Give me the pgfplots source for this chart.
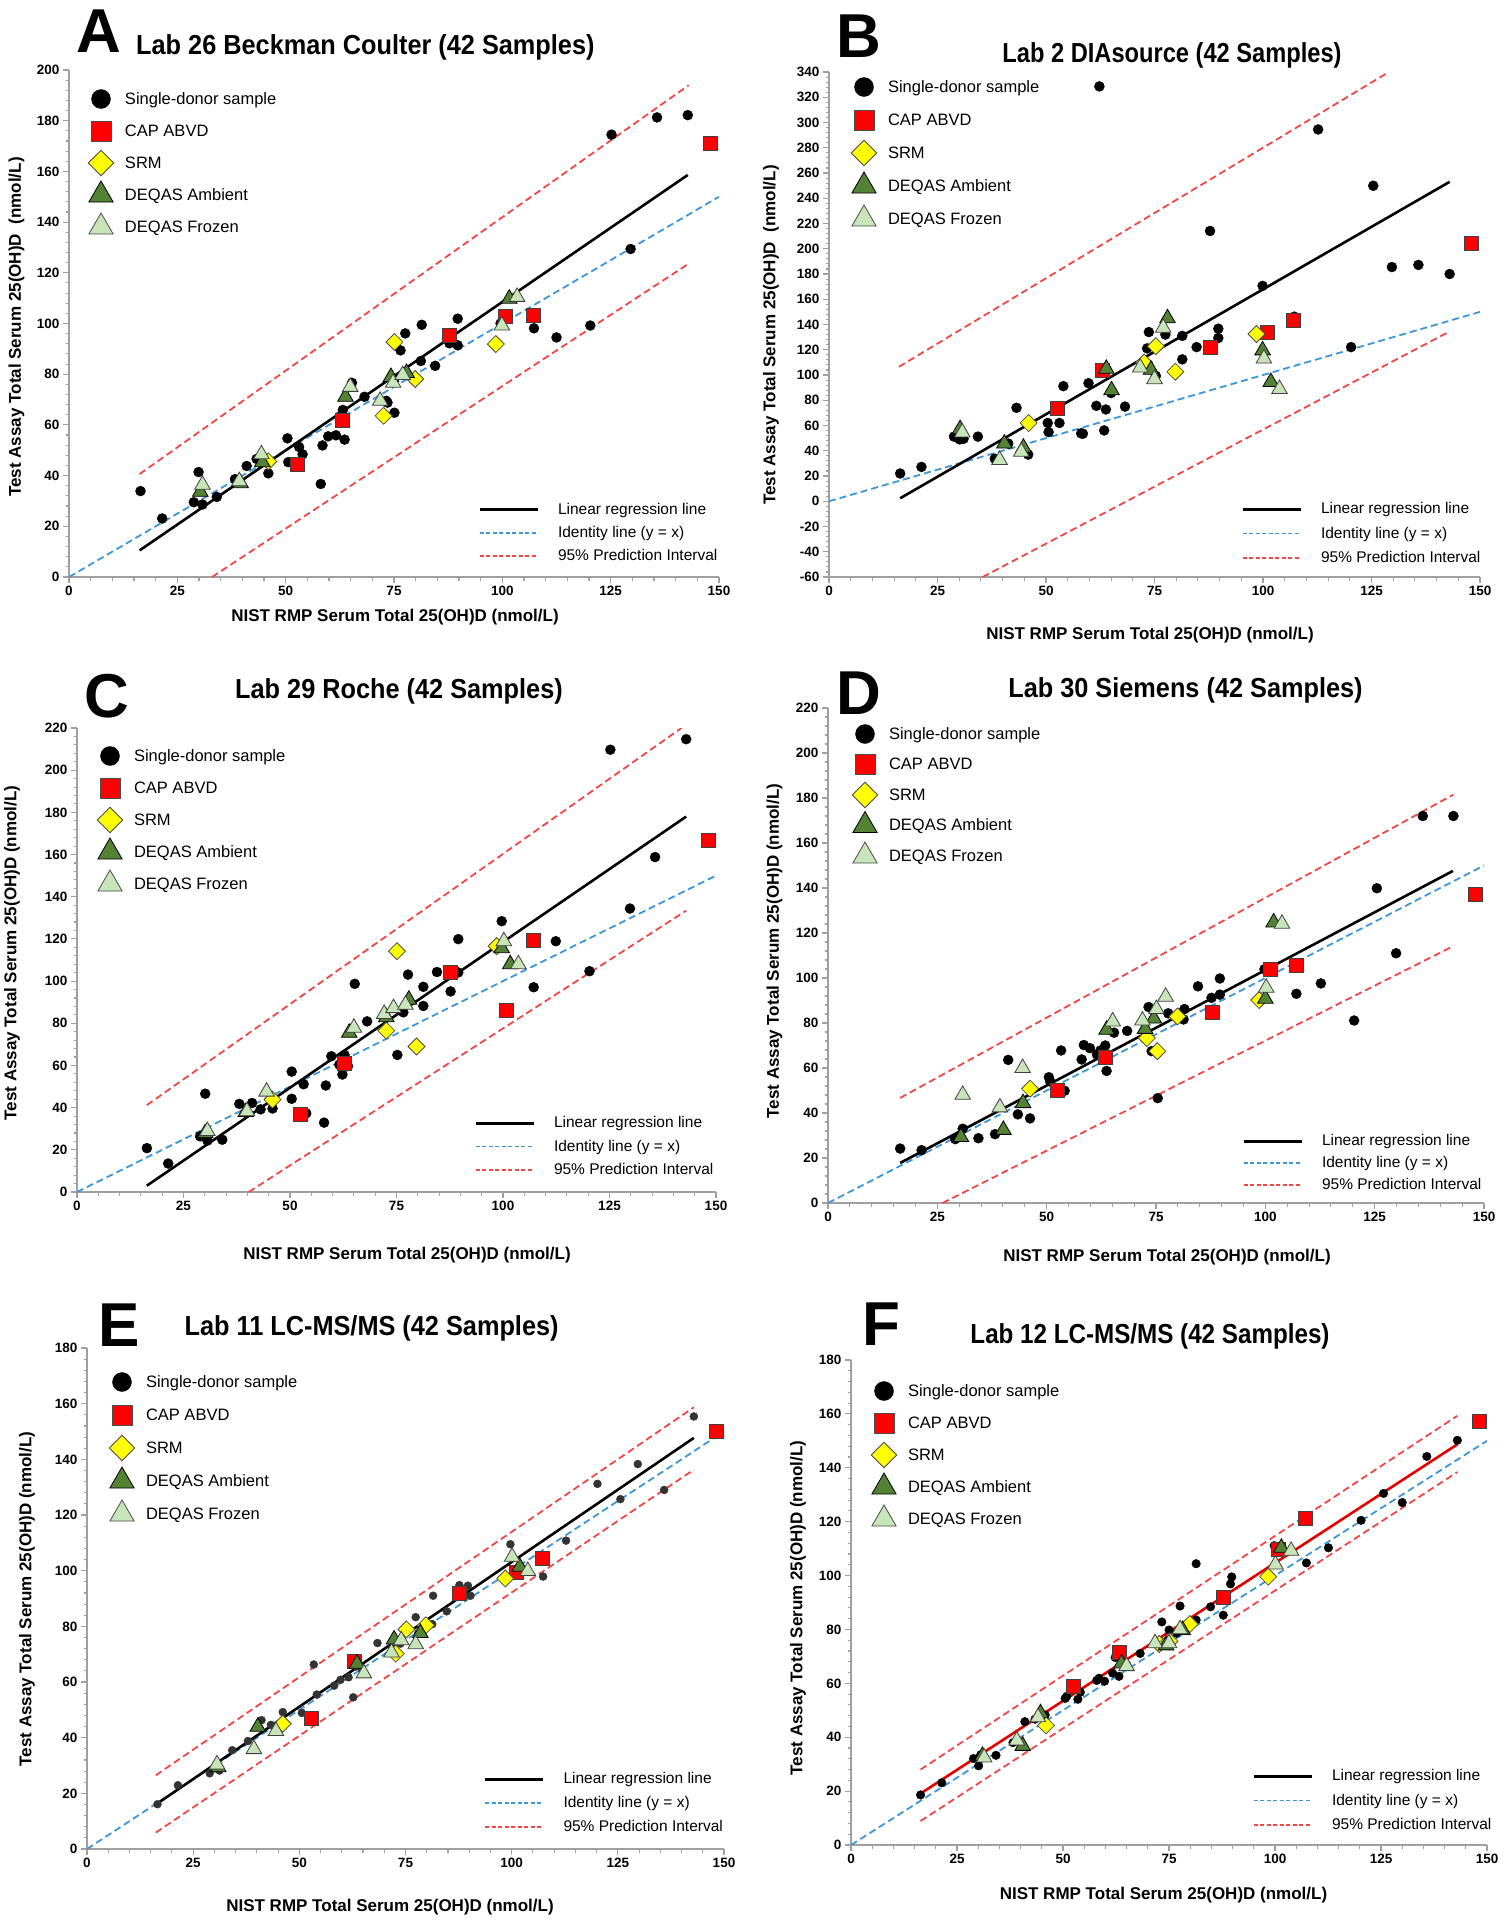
\documentclass[border=0pt]{standalone}
\usepackage{pgfplots}
\pgfplotsset{compat=1.18}
\usepackage{fontspec}
\setmainfont{Liberation Sans}
\newfontfamily\tfont[FakeStretch=0.92]{Liberation Sans}
\newfontfamily\tfontB[FakeStretch=0.86]{Liberation Sans}
\newfontfamily\tfontF[FakeStretch=0.88]{Liberation Sans}
\newcommand{\fs}[1]{\fontsize{#1pt}{#1pt}\selectfont}

\definecolor{cred}{RGB}{255,0,0}
\definecolor{cyel}{RGB}{255,255,0}
\definecolor{camb}{RGB}{84,130,53}
\definecolor{cfro}{RGB}{200,228,185}
\definecolor{cid}{RGB}{60,150,215}
\definecolor{cpi}{RGB}{240,70,70}
\definecolor{caxis}{RGB}{160,160,160}

\pgfplotsset{
 panel/.style={
  scale only axis, anchor=north west,
  axis x line*=bottom, axis y line*=left,
  axis line style={draw=caxis, line width=1.6pt, -},
  tick style={draw=caxis, line width=1.1pt},
  major tick length=6pt, minor tick length=3.5pt,
  tick align=outside,
  xmin=0, xmax=150, xtick={0,25,...,150}, minor x tick num=4, minor y tick num=4,
  ticklabel style={font=\bfseries\fs{13.5}},
  /pgf/number format/assume math mode=true,
  legend cell align=left,
  legend style={draw=none, fill=none, inner sep=0pt, outer sep=0pt,
    at={(axis description cs:0,1)}, anchor=north west,
    font=\fs{16.5}, column sep=11pt, row sep=0pt, nodes={inner sep=0pt}},
 },
 mk/.style={legend image code/.code={\path[draw=none,fill=none] (-13pt,-#1) rectangle (13pt,#1); \draw[##1] plot coordinates {(0pt,0pt)};}},
 lnleg/.style={legend image code/.code={\path[draw=none,fill=none] (0pt,-#1) rectangle (58pt,#1); \draw[##1] (0pt,0pt) -- (58pt,0pt);}},
 ov/.style={scale only axis, anchor=north west, hide axis, xmin=0,xmax=1,ymin=0,ymax=1,
   legend cell align=left,
   legend style={draw=none, fill=none, inner sep=0pt, outer sep=0pt,
    at={(axis description cs:0,1)}, anchor=north west,
    font=\fs{15.5}, column sep=19pt, row sep=0pt, nodes={inner sep=0pt}}},
 pdon/.style={only marks, mark=*, mark size=5pt, draw=black, fill=black, forget plot},
 pcap/.style={only marks, mark=square*, mark size=7pt, draw=black!75, fill=cred, line width=0.8pt, forget plot},
 psrm/.style={only marks, mark=square*, mark size=6pt, mark options={rotate=45}, draw=black!70, fill=cyel, line width=0.8pt, forget plot},
 pamb/.style={only marks, mark=triangle*, mark size=9pt, draw=black, fill=camb, line width=0.8pt, forget plot},
 pfro/.style={only marks, mark=triangle*, mark size=9pt, draw=black!75, fill=cfro, line width=0.8pt, forget plot},
 lreg/.style={black, line width=2.6pt, forget plot},
 lid/.style={cid, line width=1.8pt, dash pattern=on 7pt off 4pt, forget plot},
 lpi/.style={cpi, line width=1.8pt, dash pattern=on 7pt off 4pt, forget plot},
}

\newcommand{\markleg}{%
 \addlegendimage{only marks, mark=*, mark size=9.5pt, fill=black, draw=black}
 \addlegendentry{Single-donor sample}
 \addlegendimage{only marks, mark=square*, mark size=10pt, fill=cred, draw=black!70, line width=0.8pt}
 \addlegendentry{CAP ABVD}
 \addlegendimage{only marks, mark=square*, mark size=9pt, mark options={rotate=45}, fill=cyel, draw=black!70, line width=0.8pt}
 \addlegendentry{SRM}
 \addlegendimage{only marks, mark=triangle*, mark size=14pt, fill=camb, draw=black, line width=0.8pt}
 \addlegendentry{DEQAS Ambient}
 \addlegendimage{only marks, mark=triangle*, mark size=14pt, fill=cfro, draw=black!70, line width=0.8pt}
 \addlegendentry{DEQAS Frozen}
}
\newcommand{\lineleg}{%
 \addlegendimage{black, line width=3pt}
 \addlegendentry{Linear regression line}
 \addlegendimage{cid, line width=1.8pt, dash pattern=on 4pt off 2.5pt}
 \addlegendentry{Identity line (y = x)}
 \addlegendimage{cpi, line width=1.8pt, dash pattern=on 4pt off 2.5pt}
 \addlegendentry{95\% Prediction Interval}
}

\begin{document}
\begin{tikzpicture}
\path[use as bounding box] (0pt,0pt) rectangle (1505pt,-1920pt);

% ================= A =================
\begin{axis}[panel, at={(69pt,-70pt)}, width=650pt, height=507pt,
  ymin=0, ymax=200, ytick={0,20,...,200}, mk=16pt,
  legend style={xshift=19pt, yshift=-13pt}]
\addplot[lid] coordinates {(0,0) (150,150)};
\addplot[lpi] coordinates {(16.3,40.6) (143,194)};
\addplot[lpi] coordinates {(33,0) (142.8,123.4)};
\addplot[lreg] coordinates {(16.3,10.5) (142.8,158.6)};
\addplot[pdon] coordinates {(16.5,33.9) (21.5,23.1) (29.9,41.4) (28.8,29.5) (30.8,28.6) (34.1,31.6) (38.3,38.6) (41,43.8) (43.3,46.6) (46,40.9) (50.4,54.7) (50.6,45.3) (53.1,51.3) (53.9,48.4) (58.1,36.7) (58.5,51.9) (59.8,55.5) (61.6,55.9) (62.5,63.3) (63.6,54.2) (63.2,65.9) (65.3,76.6) (68.2,71.1) (73.2,69.5) (73.5,68.8) (75.1,64.8) (76.5,89.4) (77.6,96.1) (81.2,85.2) (81.4,99.5) (84.5,83.3) (87.8,92.2) (89.7,91.4) (89.7,101.9) (99.6,100) (107.3,98.1) (112.5,94.5) (120.3,99.2) (125.2,174.5) (129.6,129.4) (135.7,181.3) (142.8,182.2)};
\addplot[pcap] coordinates {(52.6,44.5) (63.1,61.7) (87.8,95.3) (100.7,102.8) (107.1,103.1) (148,171.1)};
\addplot[psrm] coordinates {(46,45.6) (72.6,63.6) (75.1,92.7) (79.9,78.1) (98.5,91.9)};
\addplot[pamb] coordinates {(30.3,33.6) (39.6,37) (44.6,45.3) (63.8,71.1) (74.3,78.9) (77.9,80.5) (101.6,109.8)};
\addplot[pfro] coordinates {(30.8,36.4) (39.3,37.8) (44.4,48.4) (64.9,75) (71.8,69.5) (74.8,76.6) (77,79.7) (99.9,99.2) (103.4,110.5)};
\markleg
\end{axis}
\begin{axis}[ov, at={(69pt,-70pt)}, width=650pt, height=507pt, lnleg=11.6pt,
  legend style={xshift=409pt, yshift=-428pt}]
\lineleg
\end{axis}

% ================= B =================
\begin{axis}[panel, at={(829pt,-72pt)}, width=651pt, height=505pt,
  ymin=-60, ymax=340, ytick={-60,-40,...,340}, mk=16.5pt,
  legend style={xshift=22pt, yshift=1.5pt}]
\addplot[lid] coordinates {(0,0) (150,150)};
\addplot[lpi] coordinates {(16.1,106.5) (129,340)};
\addplot[lpi] coordinates {(35.4,-60) (143,134.5)};
\addplot[lreg] coordinates {(16.4,2.4) (143,253)};
\addplot[pdon] coordinates {(16.4,22) (21.3,27.2) (28.8,51.2) (30.1,49) (31,49.5) (34.3,51.2) (38.2,33.7) (41.3,45.7) (43.2,74) (45.9,37) (50.4,62) (50.6,54.8) (53.1,62) (54,91.2) (58.1,53.8) (58.5,53.5) (59.8,93.5) (61.6,75.6) (62.3,328.6) (63.4,56.1) (63.8,72.7) (65,85.7) (68.2,75) (73.3,121.1) (73.7,134) (75.3,99.3) (77.5,132) (81.4,131) (81.4,112.4) (84.7,122.1) (87.8,214.1) (89.7,136.7) (89.7,129.3) (99.9,170.6) (107.2,146.2) (112.7,294.5) (120.3,122.1) (125.4,249.9) (129.7,185.5) (135.8,187.2) (143,180)};
\addplot[pcap] coordinates {(52.7,73.3) (63.1,103.6) (87.8,122.1) (100.9,133.5) (106.9,143.3) (148.1,204.1)};
\addplot[psrm] coordinates {(46,62) (72.6,109.8) (75.3,122.8) (79.8,102.6) (98.5,132.5)};
\addplot[pamb] coordinates {(30.2,57.1) (40.4,45.7) (44.8,42.4) (63.9,104.9) (65.1,87.9) (74.2,104.1) (78,144.9) (99.9,119.5) (101.8,94.5)};
\addplot[pfro] coordinates {(30.7,54.5) (39.3,32.7) (44.3,39.2) (71.7,105.9) (75,96.7) (77,137.4) (100.2,113) (103.8,88.9)};
\markleg
\end{axis}
\begin{axis}[ov, at={(829pt,-72pt)}, width=651pt, height=505pt, lnleg=12.25pt,
  legend style={xshift=412pt, yshift=-424.75pt}]
\lineleg
\end{axis}

% ================= C =================
\begin{axis}[panel, at={(77pt,-728pt)}, width=639pt, height=464pt,
  ymin=0, ymax=220, ytick={0,20,...,220}, mk=16pt,
  legend style={xshift=20pt, yshift=-12pt}]
\addplot[lid] coordinates {(0,0) (150,150)};
\addplot[lpi] coordinates {(16.4,41.2) (141.9,220)};
\addplot[lpi] coordinates {(40.3,0) (143,133.4)};
\addplot[lreg] coordinates {(16.4,3) (143,178)};
\addplot[pdon] coordinates {(16.4,20.8) (21.4,13.5) (30.1,46.6) (28.9,26.4) (30.6,24.4) (34.1,24.8) (38.1,41.8) (41.1,42.2) (43.1,39.2) (45.9,39.6) (50.4,57.1) (50.4,44.2) (53.2,51.1) (53.8,37.3) (58,32.9) (58.4,50.5) (59.7,64.4) (61.6,60.4) (62.3,55.7) (62.8,65) (63.6,59.7) (65.2,98.7) (68.1,80.9) (75.2,65) (76.6,85.2) (77.7,103.1) (81.3,97.3) (81.3,88.2) (84.5,104.3) (87.7,95.1) (89.5,119.9) (89.5,104.1) (99.7,128.4) (107.2,97.1) (112.4,118.9) (120.3,104.7) (125.2,209.7) (129.8,134.4) (135.7,158.8) (143,214.7)};
\addplot[pcap] coordinates {(52.4,36.7) (62.7,61) (87.6,104.1) (100.9,86.2) (107.1,119.5) (148.1,166.7)};
\addplot[psrm] coordinates {(45.9,43.8) (72.6,76.5) (75.1,114.2) (79.7,69) (98.5,116.6)};
\addplot[pamb] coordinates {(30.1,27.9) (39.6,37.9) (63.9,75.5) (72.6,82.9) (77.9,91.2) (99.7,115.6) (101.7,108)};
\addplot[pfro] coordinates {(30.6,28.9) (39.9,38.3) (44.5,47.6) (65,77.9) (72.1,84.4) (74.3,87.2) (77.1,88.8) (100.2,118.9) (103.6,108)};
\markleg
\end{axis}
\begin{axis}[ov, at={(77pt,-728pt)}, width=639pt, height=464pt, lnleg=11.75pt,
  legend style={xshift=397pt, yshift=-383.25pt}]
\lineleg
\end{axis}

% ================= D =================
\begin{axis}[panel, at={(828pt,-708pt)}, width=656pt, height=495pt,
  ymin=0, ymax=220, ytick={0,20,...,220}, mk=15.25pt,
  legend style={xshift=24pt, yshift=-10.75pt}]
\addplot[lid] coordinates {(0,0) (150,150)};
\addplot[lpi] coordinates {(16.5,46.7) (143,181.5)};
\addplot[lpi] coordinates {(26.2,0) (143,114.2)};
\addplot[lreg] coordinates {(16.5,17.8) (142.9,147.6)};
\addplot[pdon] coordinates {(16.5,24.2) (21.4,23.5) (29.1,28.4) (30.8,33) (34.4,28.8) (38.2,30.6) (41.2,63.6) (43.4,39.4) (46.2,37.6) (50.5,55.9) (50.8,54) (53.3,67.8) (54.1,49.9) (58,63.8) (58.5,70.2) (59.9,68.8) (61.5,66) (62.3,67.8) (63.4,70) (63.7,58.7) (65.4,75.7) (68.4,76.5) (73.3,87.1) (74,67.5) (75.4,46.6) (77.8,84.3) (81.3,81.6) (81.5,86.2) (84.6,96.3) (87.7,91.2) (89.6,99.8) (89.6,92.6) (99.8,103.9) (107.1,93) (112.7,97.6) (120.3,81.1) (125.5,139.9) (129.9,111) (136,172) (143,172)};
\addplot[pcap] coordinates {(52.5,49.9) (63.4,64.7) (87.9,84.7) (101.1,103.9) (107,105.8) (148.1,137)};
\addplot[psrm] coordinates {(46.2,50.8) (72.9,73.3) (75.3,67.5) (79.9,82.9) (98.6,90.2)};
\addplot[pamb] coordinates {(30.4,29.3) (40.1,32.5) (44.6,44.4) (63.7,77) (72.5,77.4) (74.5,82) (100,90.8) (101.9,124.7)};
\addplot[pfro] coordinates {(30.8,48.1) (39.3,42.5) (44.5,60) (65.1,80.7) (71.9,81.1) (75.1,86.2) (77.2,91.7) (100.2,95.7) (103.8,124.1)};
\markleg
\end{axis}
\begin{axis}[ov, at={(828pt,-708pt)}, width=656pt, height=495pt, lnleg=11pt,
  legend style={xshift=414pt, yshift=-422pt}]
\lineleg
\end{axis}

% ================= E =================
\begin{axis}[panel, at={(87pt,-1348pt)}, width=637pt, height=501pt,
  ymin=0, ymax=180, ytick={0,20,...,180}, mk=16.5pt,
  legend style={xshift=22pt, yshift=-17.5pt}]
\addplot[lid] coordinates {(0,0) (150,150)};
\addplot[lpi] coordinates {(16.2,26.5) (142.9,158.7)};
\addplot[lpi] coordinates {(16.2,5.9) (142.9,136.3)};
\addplot[lreg] coordinates {(16.6,16.4) (142.9,147.7)};
\addplot[pdon, mark size=4pt, draw=black!80, fill=black!80] coordinates {(16.6,16.1) (21.4,22.9) (28.9,27.2) (30.1,29) (31.2,28.2) (34.2,35.5) (37.9,38.8) (41.1,46.3) (43.3,44.6) (46.1,49.2) (50.6,48.9) (53.4,66.3) (54.1,55.5) (58.2,58.7) (59.7,60.8) (61.6,61.7) (62.7,54.5) (63.3,65.6) (64.6,64.9) (68.4,74) (72.3,72.8) (73.8,73.8) (77.4,83.3) (78,77.5) (81.5,91) (81.3,80.8) (84.7,85.4) (87.7,94.8) (89.7,94.6) (90.3,91) (99.7,109.5) (107.4,97.9) (112.8,110.8) (120.2,131.2) (125.6,125.7) (129.7,138.3) (135.9,129) (142.9,155.4)};
\addplot[pcap] coordinates {(52.8,46.8) (62.9,67.5) (87.7,91.7) (101,99.3) (107.2,104.3) (148.1,150)};
\addplot[psrm] coordinates {(46.1,45) (72.7,70.2) (75.2,78.9) (79.8,80.4) (98.5,97.2)};
\addplot[pamb] coordinates {(30.9,29.4) (40.2,43.9) (63.6,66.6) (72.3,75.3) (78.5,77.6) (101.9,101.4)};
\addplot[pfro] coordinates {(30.6,30.4) (39.3,35.9) (44.5,42.4) (65.2,63.1) (71.7,70.6) (74,75) (77.4,73.6) (100.1,105) (103.8,99.9)};
\markleg
\end{axis}
\begin{axis}[ov, at={(87pt,-1348pt)}, width=637pt, height=501pt, lnleg=12pt,
  legend style={xshift=396.5pt, yshift=-419pt}]
\lineleg
\end{axis}

% ================= F =================
\begin{axis}[panel, at={(851pt,-1360pt)}, width=636pt, height=485pt,
  ymin=0, ymax=180, ytick={0,20,...,180}, mk=16pt,
  legend style={xshift=20pt, yshift=-15pt}]
\addplot[lid] coordinates {(0,0) (150,150)};
\addplot[lpi] coordinates {(16.4,28) (143,159.3)};
\addplot[lpi] coordinates {(16.4,8.9) (143,138.4)};
\addplot[lreg, color=red!90!black] coordinates {(16.4,19.1) (143,148.7)};
\addplot[pdon, mark size=4.3pt] coordinates {(16.4,18.6) (21.4,23.1) (28.9,32.1) (30.1,29.4) (30.6,33.5) (34.2,33.3) (38.2,38) (41,45.8) (43.4,46.7) (45.8,48.2) (50.5,54.4) (50.9,55.2) (53.5,54.1) (54.1,56.7) (57.95,61.1) (58.5,61.9) (59.8,60.8) (61.7,63.8) (62.3,69.6) (63.2,62.6) (63.8,70.8) (65.1,66.7) (68.2,71.1) (73.3,82.8) (75,79.8) (76.8,78.6) (77.6,88.7) (81.4,104.4) (81.4,83.5) (84.8,88.4) (87.8,85.3) (89.5,96.9) (89.8,99.5) (99.8,111.1) (107.4,104.7) (112.6,110.3) (120.3,120.5) (125.6,130.5) (130,127.1) (135.8,144.2) (143,150.2)};
\addplot[pcap] coordinates {(52.4,58.9) (63.2,71.6) (87.8,92) (100.9,109.6) (107.2,121.1) (148.3,157.3)};
\addplot[psrm] coordinates {(46,44.4) (72.7,74.6) (75.1,75.6) (79.9,82) (98.4,99.6)};
\addplot[pamb] coordinates {(31,33.1) (40.5,36.8) (44.7,48.9) (63.8,67.4) (74.3,74.1) (78.2,79.8) (101.5,110.3)};
\addplot[pfro] coordinates {(31.4,32.5) (39.1,38.8) (44.1,47.4) (65,66.4) (71.7,74.9) (75,74.9) (77.6,80.1) (100.1,104.1) (103.8,109.2)};
\markleg
\end{axis}
\begin{axis}[ov, at={(851pt,-1360pt)}, width=636pt, height=485pt, lnleg=12.25pt,
  legend style={xshift=401pt, yshift=-403.75pt}]
\lineleg
\end{axis}

% ================= texts =================
\tikzset{letter/.style={anchor=base west, inner sep=0pt, font=\bfseries\fs{62}},
  ttl/.style={anchor=base, inner sep=0pt, font=\tfont\bfseries\fs{27.5}},
  xl/.style={anchor=base, inner sep=0pt, font=\bfseries\fs{17}},
  yl/.style={anchor=center, inner sep=0pt, rotate=90, font=\bfseries\fs{17}}}
\node[letter] at (76pt,-52pt) {A};
\node[letter] at (836pt,-57pt) {B};
\node[letter] at (84pt,-717pt) {C};
\node[letter] at (836pt,-714pt) {D};
\node[letter] at (98pt,-1346pt) {E};
\node[letter] at (862pt,-1345pt) {F};

\node[ttl, anchor=base west] at (136pt,-54pt) {Lab 26 Beckman Coulter (42 Samples)};
\node[ttl, font=\tfontB\bfseries\fs{27.5}] at (1172pt,-62pt) {Lab 2 DIAsource (42 Samples)};
\node[ttl] at (399pt,-698pt) {Lab 29 Roche (42 Samples)};
\node[ttl] at (1185.5pt,-697pt) {Lab 30 Siemens (42 Samples)};
\node[ttl] at (371.6pt,-1335pt) {Lab 11 LC-MS/MS (42 Samples)};
\node[ttl, font=\tfontF\bfseries\fs{27.5}] at (1150pt,-1343pt) {Lab 12 LC-MS/MS (42 Samples)};

\node[xl] at (395pt,-621pt) {NIST RMP Serum Total 25(OH)D (nmol/L)};
\node[xl] at (1150pt,-639pt) {NIST RMP Serum Total 25(OH)D (nmol/L)};
\node[xl] at (407pt,-1259pt) {NIST RMP Serum Total 25(OH)D (nmol/L)};
\node[xl] at (1167pt,-1261pt) {NIST RMP Serum Total 25(OH)D (nmol/L)};
\node[xl] at (390pt,-1911pt) {NIST RMP Total Serum 25(OH)D (nmol/L)};
\node[xl] at (1163.5pt,-1899pt) {NIST RMP Total Serum 25(OH)D (nmol/L)};

\node[yl] at (16.5pt,-327pt) {Test Assay Total Serum 25(OH)D\ \ (nmol/L)};
\node[yl] at (771pt,-335pt) {Test Assay Total Serum 25(OH)D\ \ (nmol/L)};
\node[yl] at (12pt,-953pt) {Test Assay Total Serum 25(OH)D (nmol/L)};
\node[yl] at (774.5pt,-951pt) {Test Assay Total Serum 25(OH)D (nmol/L)};
\node[yl] at (27pt,-1599pt) {Test Assay Total Serum 25(OH)D (nmol/L)};
\node[yl] at (798pt,-1608pt) {Test Assay Total Serum 25(OH)D (nmol/L)};
\end{tikzpicture}
\end{document}
